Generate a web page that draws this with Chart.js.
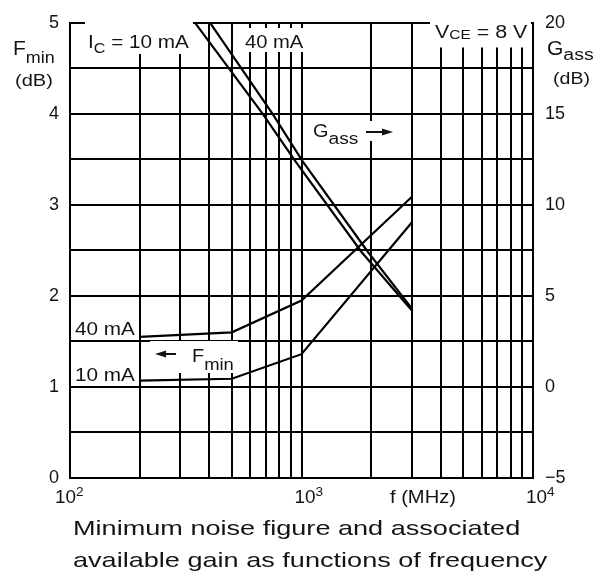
<!DOCTYPE html>
<html>
<head>
<meta charset="utf-8">
<script src="https://cdn.jsdelivr.net/npm/chart.js@4"></script>
<style>
body { margin: 0; background: #fff; }
#wrap { position: relative; width: 604px; height: 577px; }
#caption {
    position: absolute; left: 73px; top: 512px;
    font: 21px "Liberation Sans", Arial, sans-serif; line-height: 32px;
    color: #141414; white-space: nowrap;
    transform: scaleX(1.29); transform-origin: 0 0;
}
</style>
</head>
<body>
<div id="wrap">
<canvas id="noiseChart" width="604" height="577"></canvas>
<div id="caption">Minimum noise figure and associated<br>available gain as functions of frequency</div>
</div>
<script>
// Frequency grid lines (MHz), log axis
const freqGrid = [100, 200, 300, 400, 500, 600, 700, 800, 900,
                  1000, 2000, 3000, 4000, 5000, 6000, 7000, 8000, 9000, 10000];
const freqLabels = { 100: '2', 1000: '3', 10000: '4' }; // 10^n

// Fmin (dB), left axis
const fminFreq = [200, 500, 1000, 3000];
const fmin10mA = [1.07, 1.09, 1.36, 2.81];
const fmin40mA = [1.55, 1.60, 1.95, 3.09];

// Gass (dB), right axis
const gass10Freq = [347, 680, 940, 1820, 3000];
const gass10mA = [20, 15, 12.4, 7.4, 4.2];
const gass40Freq = [403, 750, 1010, 1940, 3000];
const gass40mA = [20, 15, 12.4, 7.4, 4.3];

const FONT = '"Liberation Sans", Arial, sans-serif';
const INK = '#141414';
Chart.defaults.font.family = FONT;
Chart.defaults.color = INK;

function pts(xs, ys) {
    return xs.map((x, i) => ({ x: x, y: ys[i] }));
}

// draws text stretched a bit horizontally, returns the width used
function txt(ctx, s, x, y, size, sx) {
    sx = sx || 1;
    ctx.save();
    ctx.translate(x, y);
    ctx.scale(sx, 1);
    ctx.font = size + 'px ' + FONT;
    ctx.textAlign = 'left';
    ctx.textBaseline = 'alphabetic';
    ctx.fillText(s, 0, 0);
    const w = ctx.measureText(s).width * sx;
    ctx.restore();
    return w;
}

function arrow(ctx, x1, x2, y) {
    const dir = x2 > x1 ? 1 : -1;
    ctx.beginPath();
    ctx.moveTo(x1, y);
    ctx.lineTo(x2 - dir * 8, y);
    ctx.lineWidth = 2;
    ctx.stroke();
    ctx.beginPath();
    ctx.moveTo(x2, y);
    ctx.lineTo(x2 - dir * 11, y - 3.5);
    ctx.lineTo(x2 - dir * 11, y + 3.5);
    ctx.closePath();
    ctx.fill();
}

const annotations = {
    id: 'annotations',
    beforeDatasetsDraw(chart) {
        const ctx = chart.ctx;
        ctx.save();
        ctx.fillStyle = '#fff';
        ctx.fillRect(85, 22, 108, 32);   // IC = 10 mA
        ctx.fillRect(241, 28, 65, 24);   // 40 mA
        ctx.fillRect(430, 16.5, 101, 31); // VCE
        ctx.fillRect(308, 121, 88, 20);  // Gass ->
        ctx.fillRect(150, 341, 88, 32);  // <- Fmin
        ctx.restore();
    },
    afterDatasetsDraw(chart) {
        const ctx = chart.ctx;
        ctx.save();
        ctx.fillStyle = INK;
        ctx.strokeStyle = INK;
        let x;
        // IC = 10 mA
        x = 88;
        x += txt(ctx, 'I', x, 48, 18, 1.15);
        x += txt(ctx, 'C', x, 53, 14, 1.15);
        txt(ctx, ' = 10 mA', x, 48, 18, 1.15);
        txt(ctx, '40 mA', 245, 48, 18, 1.12);
        // VCE = 8 V
        x = 435;
        x += txt(ctx, 'V', x, 38, 18, 1.19);
        x += txt(ctx, 'CE', x, 39, 13, 1.19);
        txt(ctx, ' = 8 V', x, 38, 18, 1.19);
        // Gass ->
        x = 313;
        x += txt(ctx, 'G', x, 137, 19, 1.05);
        txt(ctx, 'ass', x, 144, 16, 1.2);
        arrow(ctx, 366, 393, 132);
        // <- Fmin
        arrow(ctx, 176, 155, 354);
        x = 192;
        x += txt(ctx, 'F', x, 362, 19, 1.05);
        txt(ctx, 'min', x, 370, 16, 1.15);
        // current labels on the Fmin curves
        txt(ctx, '40 mA', 75, 335, 18, 1.15);
        txt(ctx, '10 mA', 75, 381, 18, 1.15);
        // axis titles
        x = 13;
        x += txt(ctx, 'F', x, 55, 20, 1.05);
        txt(ctx, 'min', x, 63, 16, 1.12);
        txt(ctx, '(dB)', 15, 86, 17, 1.18);
        x = 547;
        x += txt(ctx, 'G', x, 55, 20, 1.05);
        txt(ctx, 'ass', x, 60, 16, 1.22);
        txt(ctx, '(dB)', 553, 84, 17, 1.15);
        // frequency decade labels
        const xs = chart.scales.x;
        Object.keys(freqLabels).forEach((v, i) => {
            const px = xs.getPixelForValue(Number(v));
            const left = px - 15 + (i === 0 ? 0 : 8);
            const w = txt(ctx, '10', left, 503, 18, 1.05);
            txt(ctx, freqLabels[v], left + w, 496, 13, 1.05);
        });
        txt(ctx, 'f (MHz)', xs.getPixelForValue(3000) - 22, 503, 18, 1.12);
        ctx.restore();
    }
};

const lineStyle = {
    borderColor: '#000',
    borderWidth: 2.2,
    pointRadius: 0,
    fill: false,
    tension: 0
};

new Chart(document.getElementById('noiseChart'), {
    type: 'line',
    data: {
        datasets: [
            { label: 'Fmin 10 mA', data: pts(fminFreq, fmin10mA), yAxisID: 'y', ...lineStyle },
            { label: 'Fmin 40 mA', data: pts(fminFreq, fmin40mA), yAxisID: 'y', ...lineStyle },
            { label: 'Gass 10 mA', data: pts(gass10Freq, gass10mA), yAxisID: 'y2', ...lineStyle },
            { label: 'Gass 40 mA', data: pts(gass40Freq, gass40mA), yAxisID: 'y2', ...lineStyle }
        ]
    },
    options: {
        responsive: false,
        animation: false,
        layout: { padding: { top: 15 } },
        plugins: {
            legend: { display: false },
            tooltip: { enabled: false }
        },
        scales: {
            x: {
                type: 'logarithmic',
                min: 100,
                max: 10000,
                afterBuildTicks: (scale) => {
                    scale.ticks = freqGrid.map(v => ({ value: v }));
                },
                afterFit: (scale) => { scale.height = 99; },
                ticks: { display: false },
                grid: { color: '#000', lineWidth: 2, drawTicks: false },
                border: { display: true, color: '#000', width: 2 }
            },
            y: {
                position: 'left',
                min: 0,
                max: 5,
                afterFit: (scale) => { scale.width = 70; },
                ticks: {
                    stepSize: 0.5,
                    padding: 11,
                    font: { size: 18 },
                    callback: (v) => Number.isInteger(v) ? String(v) : ''
                },
                grid: { color: '#000', lineWidth: 2, drawTicks: false },
                border: { display: true, color: '#000', width: 2 }
            },
            y2: {
                position: 'right',
                min: -5,
                max: 20,
                afterFit: (scale) => { scale.width = 71; },
                ticks: {
                    stepSize: 2.5,
                    padding: 12,
                    font: { size: 18 },
                    callback: (v) => v % 5 === 0 ? (v < 0 ? '\u2212' + Math.abs(v) : String(v)) : ''
                },
                grid: { drawOnChartArea: false, drawTicks: false },
                border: { display: true, color: '#000', width: 2 }
            }
        }
    },
    plugins: [annotations]
});
</script>
</body>
</html>
